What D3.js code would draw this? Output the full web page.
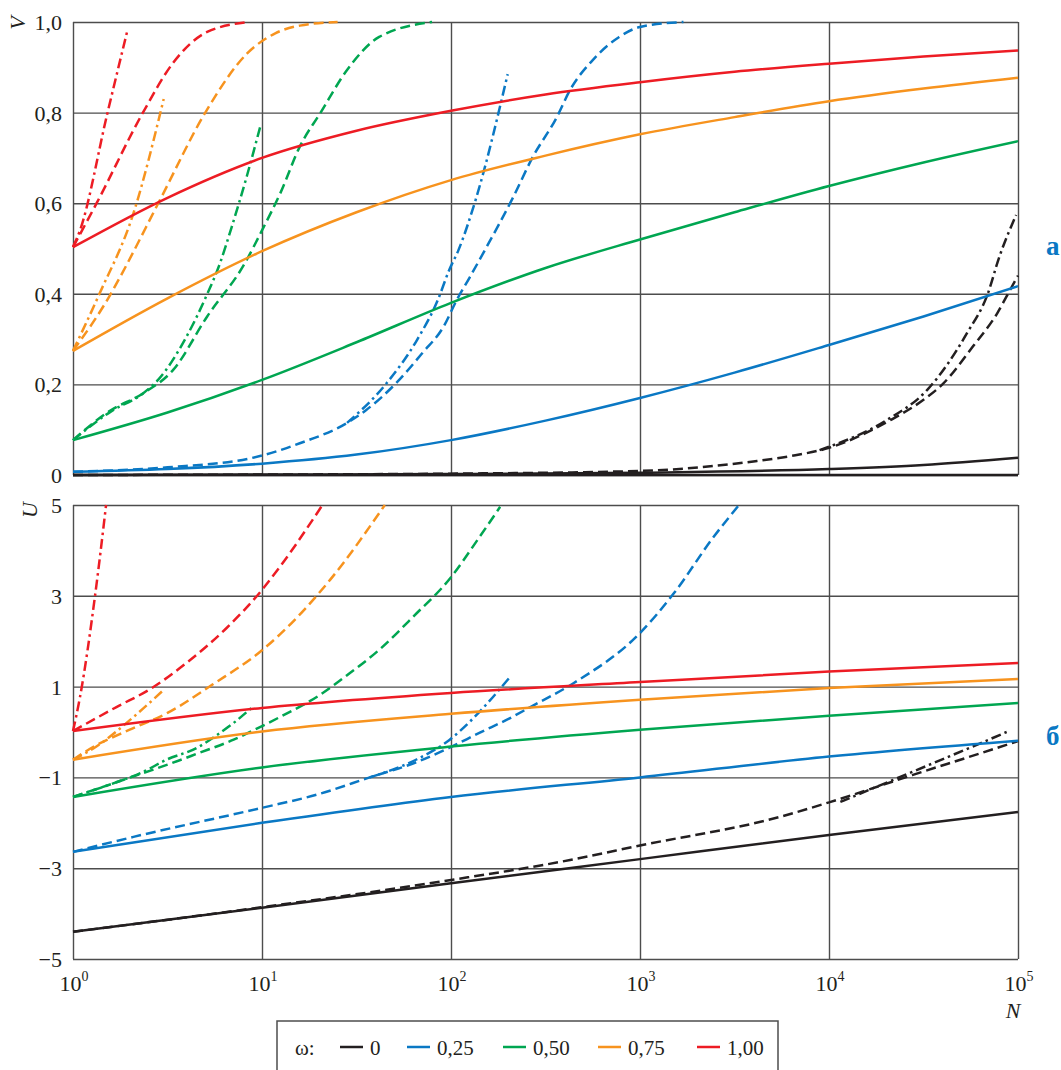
<!DOCTYPE html>
<html><head><meta charset="utf-8">
<script src="https://cdn.jsdelivr.net/npm/d3@7"></script>
<style>
body{margin:0;background:#fff}
svg text{font-family:"Liberation Serif",Tinos,"Times New Roman",Times,"DejaVu Serif",serif !important;fill:#231f20}
</style>
</head><body>
<svg id="c" width="1061" height="1070"></svg>
<script>
// ---- data ----
const omegaLabels = ["0", "0,25", "0,50", "0,75", "1,00"];
const colors = ["#231f20", "#0a78c4", "#00a651", "#f7931e", "#ed1c24"];
const xTickExps = [0, 1, 2, 3, 4, 5];
const vTicks = [0, 0.2, 0.4, 0.6, 0.8, 1.0];
const vTickLabels = ["0", "0,2", "0,4", "0,6", "0,8", "1,0"];
const uTicks = [-5, -3, -1, 1, 3, 5];
const uTickLabels = ["\u22125", "\u22123", "\u22121", "1", "3", "5"];

// points are [log10 N, value]; order: ω = 0, 0.25, 0.5, 0.75, 1.0
const vSolid = [
  [[0,0],[1,0.001],[2,0.002],[3,0.005],[4,0.013],[4.5,0.022],[5,0.038]],
  [[0,0.007],[0.5,0.013],[1,0.025],[1.5,0.045],[2,0.077],[2.5,0.12],[3,0.17],[3.5,0.226],[4,0.287],[4.5,0.35],[5,0.417]],
  [[0,0.077],[0.5,0.138],[1,0.21],[1.5,0.293],[2,0.38],[2.5,0.457],[3,0.52],[3.5,0.58],[4,0.638],[4.5,0.69],[5,0.737]],
  [[0,0.274],[0.5,0.39],[1,0.494],[1.5,0.58],[2,0.651],[2.5,0.705],[3,0.752],[3.5,0.79],[4,0.825],[4.5,0.853],[5,0.877]],
  [[0,0.503],[0.5,0.612],[1,0.70],[1.5,0.76],[2,0.804],[2.5,0.84],[3,0.867],[3.5,0.89],[4,0.908],[4.5,0.924],[5,0.937]]
];
const vDashed = [
  [[0,0],[1,0.001],[2,0.003],[3,0.009],[3.6,0.03],[3.8,0.042],[4,0.06],[4.32,0.12],[4.5,0.166],[4.6,0.2],[4.76,0.283],[4.89,0.357],[4.96,0.41],[5,0.44]],
  [[0,0.007],[0.5,0.017],[0.94,0.037],[1.2,0.07],[1.45,0.115],[1.55,0.143],[1.71,0.203],[1.85,0.27],[1.96,0.327],[2.03,0.386],[2.10,0.437],[2.18,0.497],[2.33,0.614],[2.43,0.70],[2.56,0.79],[2.63,0.85],[2.75,0.916],[2.89,0.967],[3.0,0.989],[3.23,1.0]],
  [[0,0.077],[0.2,0.143],[0.37,0.18],[0.53,0.232],[0.71,0.35],[0.91,0.468],[1.0,0.54],[1.1,0.625],[1.2,0.725],[1.31,0.8],[1.45,0.894],[1.62,0.967],[1.9,1.0]],
  [[0,0.274],[0.2,0.40],[0.24,0.43],[0.46,0.607],[0.70,0.80],[0.92,0.93],[1.07,0.975],[1.2,0.992],[1.4,1.0]],
  [[0,0.503],[0.125,0.6],[0.37,0.8],[0.53,0.91],[0.71,0.978],[0.93,1.0]]
];
const vDashDot = [
  [[3.95,0.055],[4.3,0.12],[4.52,0.188],[4.73,0.313],[4.84,0.4],[4.9,0.48],[4.99,0.574]],
  [[1.45,0.115],[1.66,0.203],[1.82,0.298],[1.93,0.386],[1.99,0.452],[2.04,0.497],[2.13,0.607],[2.30,0.885]],
  [[0,0.077],[0.2,0.14],[0.37,0.18],[0.45,0.21],[0.6,0.305],[0.7,0.39],[0.78,0.47],[0.84,0.548],[0.92,0.66],[0.99,0.768]],
  [[0,0.274],[0.14,0.40],[0.32,0.578],[0.48,0.83]],
  [[0,0.503],[0.037,0.54],[0.18,0.795],[0.29,0.985]]
];

const uSolid = [
  [[0,-4.40],[1,-3.87],[2,-3.33],[3,-2.8],[4,-2.27],[5,-1.76]],
  [[0,-2.64],[1,-2.0],[2,-1.43],[3,-1.0],[4,-0.54],[5,-0.19]],
  [[0,-1.43],[1,-0.78],[2,-0.32],[3,0.05],[4,0.36],[5,0.64]],
  [[0,-0.61],[1,0.01],[2,0.40],[3,0.71],[4,0.97],[5,1.17]],
  [[0,0.02],[1,0.53],[2,0.86],[3,1.1],[4,1.33],[5,1.52]]
];
const uDashed = [
  [[0,-4.40],[1,-3.86],[2,-3.26],[2.63,-2.82],[3,-2.5],[3.74,-1.87],[4,-1.55],[4.44,-0.95],[4.8,-0.47],[5,-0.2]],
  [[0,-2.64],[0.32,-2.31],[1,-1.67],[1.29,-1.38],[1.57,-1.0],[1.82,-0.66],[1.99,-0.35],[2.15,-0.02],[2.31,0.3],[2.42,0.55],[2.65,1.08],[3.0,2.18],[3.18,3.06],[3.39,4.3],[3.52,4.98]],
  [[0,-1.43],[0.2,-1.15],[0.36,-0.92],[0.5,-0.72],[0.655,-0.48],[0.85,-0.17],[1.0,0.13],[1.095,0.33],[1.3,0.8],[1.45,1.25],[1.62,1.81],[1.8,2.54],[2.0,3.41],[2.14,4.23],[2.26,4.96]],
  [[0,-0.61],[0.106,-0.33],[0.3,0.05],[0.5,0.42],[0.74,1.05],[1.0,1.8],[1.095,2.15],[1.36,3.35],[1.65,5.0]],
  [[0,0.02],[0.23,0.55],[0.41,0.95],[0.6,1.52],[0.81,2.28],[1.0,3.13],[1.095,3.64],[1.32,5.0]]
];
const uDashDot = [
  [[4.06,-1.54],[4.44,-0.88],[4.8,-0.25],[4.94,0.0]],
  [[1.57,-1.0],[1.82,-0.6],[1.99,-0.18],[2.11,0.27],[2.31,1.2]],
  [[0,-1.43],[0.2,-1.15],[0.36,-0.9],[0.5,-0.6],[0.655,-0.35],[0.75,-0.1],[0.85,0.2],[0.95,0.55]],
  [[0,-0.61],[0.12,-0.33],[0.32,0.33],[0.48,0.93]],
  [[0,0.02],[0.037,0.77],[0.116,2.98],[0.175,5.0]]
];

// ---- drawing ----
const FONT = '"Liberation Serif", Tinos, "Times New Roman", Times, "DejaVu Serif", serif';
const svg = d3.select("#c");
const L = 73, R = 1018;
const x = d3.scaleLog().domain([1, 1e5]).range([L, R]);
const yV = d3.scaleLinear().domain([0, 1]).range([475, 22]);
const yU = d3.scaleLinear().domain([-5, 5]).range([959, 505]);
const gridColor = "#4d4d4d";

function panel(y, ticks, labels, top, bottom) {
  const g = svg.append("g");
  g.append("g").attr("transform", `translate(0,${bottom})`)
    .call(d3.axisBottom(x).tickValues(xTickExps.map(e => Math.pow(10, e)))
      .tickSize(-(bottom - top)).tickFormat(""))
    .call(a => a.select(".domain").remove())
    .call(a => a.selectAll("line").attr("stroke", gridColor).attr("stroke-width", 1.4));
  g.append("g").attr("transform", `translate(${L},0)`)
    .call(d3.axisLeft(y).tickValues(ticks).tickSize(-(R - L)).tickPadding(11)
      .tickFormat((d, i) => labels[i]))
    .call(a => a.attr("font-family", null).attr("font-size", null))
    .call(a => a.select(".domain").remove())
    .call(a => a.selectAll("line").attr("stroke", gridColor).attr("stroke-width", 1.4))
    .call(a => a.selectAll("text").attr("font-size", 22).style("fill", "#231f20")
      .style("font-family", FONT).attr("dy", "0.34em"));
  return g;
}
panel(yV, vTicks, vTickLabels, 22, 475);
panel(yU, uTicks, uTickLabels, 505, 959);
svg.append("line").attr("x1", L).attr("x2", R).attr("y1", yV(0)).attr("y2", yV(0))
  .attr("stroke", "#231f20").attr("stroke-width", 2.4);

function drawSet(sets, y, dash) {
  const line = d3.line().x(d => x(Math.pow(10, d[0]))).y(d => y(d[1])).curve(d3.curveMonotoneX);
  sets.forEach((s, i) => {
    svg.append("path").attr("d", line(s)).attr("fill", "none")
      .attr("stroke", colors[i]).attr("stroke-width", 2.5)
      .attr("stroke-dasharray", dash);
  });
}
drawSet(vDashDot, yV, "10,4,2.5,4");
drawSet(vDashed, yV, "10,5");
drawSet(vSolid, yV, null);
drawSet(uDashDot, yU, "10,4,2.5,4");
drawSet(uDashed, yU, "10,5");
drawSet(uSolid, yU, null);

function txt(xp, yp, s, size) {
  return svg.append("text").attr("x", xp).attr("y", yp).attr("font-size", size)
    .style("font-family", FONT).style("fill", "#231f20").text(s);
}

xTickExps.forEach(e => {
  const t = svg.append("text").attr("x", x(Math.pow(10, e)) + 1).attr("y", 991)
    .attr("text-anchor", "middle").attr("font-size", 22).style("font-family", FONT);
  t.append("tspan").text("10");
  t.append("tspan").attr("font-size", 14).attr("dy", -10).text(String(e));
});
txt(1013, 1018, "N", 22).attr("text-anchor", "middle").attr("font-style", "italic");

svg.append("text").attr("transform", "translate(25,23) rotate(-90)").attr("text-anchor", "middle")
  .attr("font-size", 22).attr("font-style", "italic").style("font-family", FONT).text("V");
svg.append("text").attr("transform", "translate(37,510) rotate(-90)").attr("text-anchor", "middle")
  .attr("font-size", 22).attr("font-style", "italic").style("font-family", FONT).text("U");

txt(1046, 255, "а", 27).attr("font-weight", "bold").style("fill", "#0a78c4");
txt(1046, 745, "б", 27).attr("font-weight", "bold").style("fill", "#0a78c4");

svg.append("rect").attr("x", 277).attr("y", 1021).attr("width", 501).attr("height", 80)
  .attr("fill", "none").attr("stroke", "#4d4d4d").attr("stroke-width", 1.5);
txt(295, 1055, "ω:", 21);
const legendX = [340, 407, 503, 598, 697];
omegaLabels.forEach((lab, i) => {
  svg.append("line").attr("x1", legendX[i]).attr("x2", legendX[i] + 23)
    .attr("y1", 1047).attr("y2", 1047).attr("stroke", colors[i]).attr("stroke-width", 2.5);
  txt(legendX[i] + 30, 1055, lab, 21);
});
</script>
</body></html>
